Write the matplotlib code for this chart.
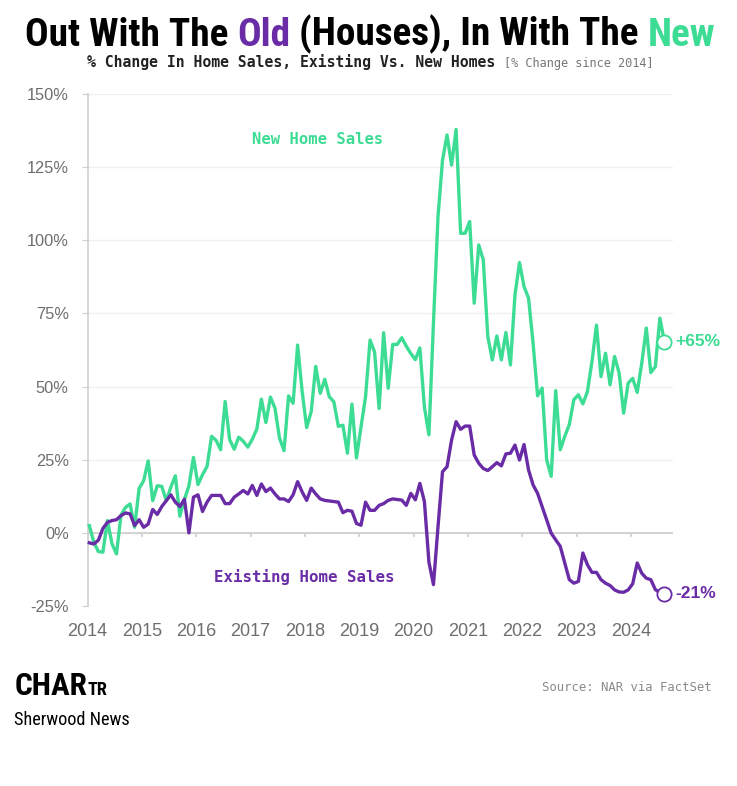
import matplotlib
matplotlib.use("Agg")
import matplotlib.pyplot as plt
import numpy as np

# % change in home sales since Jan 2014, monthly Jan 2014 .. Aug 2024
new_home = [
    2.5, -3.2, -6.4, -6.6, 4.2, -3.7, -7.2, 6.1, 8.7, 9.9, 1.9, 15.2,
    17.8, 24.6, 11.0, 16.1, 15.9, 11.0, 15.6, 19.5, 5.7, 11.4, 16.1, 25.8,
    16.5, 19.9, 22.7, 33.0, 31.6, 28.4, 44.9, 31.8, 28.6, 32.7, 31.3, 29.3,
    32.0, 35.5, 45.7, 37.7, 46.4, 42.6, 32.4, 28.1, 46.8, 44.3, 64.2, 48.3,
    36.0, 41.4, 56.9, 47.7, 52.5, 46.5, 44.8, 36.4, 36.8, 27.2, 44.0, 25.6,
    36.2, 46.5, 65.9, 61.8, 42.5, 68.4, 49.4, 64.4, 64.4, 66.7, 63.8, 61.3,
    59.2, 63.2, 43.0, 33.5, 71.7, 108.0, 127.4, 136.0, 125.7, 137.9, 102.4, 102.4,
    106.4, 78.5, 98.4, 93.3, 67.1, 59.1, 67.3, 59.1, 68.5, 57.4, 81.3, 92.4,
    84.2, 80.2, 64.8, 46.8, 49.5, 25.0, 19.3, 48.6, 28.4, 33.0, 37.0, 45.5,
    47.2, 44.1, 48.3, 58.5, 71.0, 53.4, 61.4, 50.6, 60.3, 54.6, 40.9, 51.2,
    52.8, 48.0, 58.0, 70.0, 54.8, 56.8, 73.4, 65.4,
]
existing_home = [
    -3.4, -3.8, -2.5, 1.5, 3.6, 4.2, 4.5, 5.9, 6.8, 6.5, 2.5, 4.5,
    1.9, 3.0, 8.0, 6.3, 9.0, 11.0, 13.0, 10.5, 9.0, 11.5, 0.0, 12.2,
    13.0, 7.3, 10.5, 12.8, 12.8, 12.8, 10.0, 10.0, 12.2, 13.3, 14.5, 13.3,
    16.2, 12.8, 16.7, 14.1, 15.3, 13.3, 11.6, 11.6, 10.7, 13.0, 17.5, 14.0,
    11.1, 15.3, 13.3, 11.6, 11.1, 10.9, 10.7, 10.5, 6.9, 7.7, 7.4, 3.2,
    2.6, 10.5, 7.7, 7.7, 9.4, 10.0, 11.1, 11.6, 11.4, 11.2, 9.4, 13.5,
    11.3, 16.9, 10.7, -10.0, -17.7, 2.0, 20.9, 22.6, 31.7, 38.0, 35.4, 36.5,
    36.5, 26.6, 23.8, 22.0, 21.3, 22.6, 24.0, 22.9, 27.0, 27.2, 30.0, 24.9,
    30.2, 21.5, 16.4, 13.5, 9.0, 4.4, -0.1, -2.4, -4.6, -10.3, -16.0, -17.2,
    -16.6, -6.9, -10.9, -13.5, -13.5, -16.0, -17.2, -18.0, -19.5, -20.2, -20.3, -19.5,
    -17.4, -10.3, -13.8, -15.5, -16.0, -19.4, -20.4, -20.8,
]
year_ticks = list(range(2014, 2025))
pct_ticks = [-25, 0, 25, 50, 75, 100, 125, 150]

GREEN = "#3ddc94"
PURPLE = "#6a2ca6"

months = np.arange(len(new_home))
x = 2014 + (months + 0.4) / 12

W, H = 737, 786
fig = plt.figure(figsize=(W / 100, H / 100), dpi=100)
fig.patch.set_facecolor("white")
renderer = fig.canvas.get_renderer()

ax = fig.add_axes([87.5 / W, (H - 606) / H, (673 - 87.5) / W, (606 - 94) / H])
ax.set_xlim(2014, 2024.775)
ax.set_ylim(-25, 150)

ax.set_yticks(pct_ticks)
ax.set_yticklabels([f"{p}%" for p in pct_ticks])
ax.set_xticks(year_ticks)
ax.set_xticklabels([str(y) for y in year_ticks])
ax.grid(axis="y", color="#f0f0f0", lw=1)
ax.set_axisbelow(True)
ax.axhline(0, color="#cfcfcf", lw=1.3, zorder=1)
ax.vlines(year_ticks, -1.5, 0, color="#cfcfcf", lw=1.2, zorder=1)

for s in ["top", "right", "bottom"]:
    ax.spines[s].set_visible(False)
ax.spines["left"].set_color("#cfcfcf")
ax.spines["left"].set_linewidth(1.2)

sans = ["Liberation Sans", "DejaVu Sans"]
ax.tick_params(axis="y", length=4, color="#cfcfcf", labelcolor="#6e6e6e", pad=9.5)
ax.tick_params(axis="x", length=0, labelcolor="#6e6e6e", pad=12)
for lab in ax.get_yticklabels():
    lab.set_fontfamily(sans)
    lab.set_fontsize(11.8)
for lab in ax.get_xticklabels():
    lab.set_fontfamily(sans)
    lab.set_fontsize(13)

ax.plot(x, new_home, color=GREEN, lw=2.4, zorder=3, clip_on=False)
ax.plot(x, existing_home, color=PURPLE, lw=2.4, zorder=3, clip_on=False)

for series, col in [(new_home, GREEN), (existing_home, PURPLE)]:
    ax.scatter([x[-1]], [series[-1]], s=105, facecolor="white", edgecolor=col,
               lw=1.3, zorder=5, clip_on=False)
    v = round(series[-1])
    ax.annotate(f"{'+' if v > 0 else '-'}{abs(v)}%", xy=(x[-1], series[-1]),
                xytext=(8, 0), textcoords="offset points", va="center", ha="left",
                color=col, fontsize=12.5, fontweight="bold", family=sans,
                annotation_clip=False)

mono = ["DejaVu Sans Mono"]
ax.text(2018.24, 134.3, "New Home Sales", color=GREEN, fontsize=11.2, fontweight="bold",
        family=mono, ha="center", va="center")
ax.text(2017.98, -15, "Existing Home Sales", color=PURPLE, fontsize=11.3, fontweight="bold",
        family=mono, ha="center", va="center")

cond = ["Liberation Sans Narrow", "Roboto Condensed", "Open Sans Condensed",
        "DejaVu Sans Condensed", "Roboto", "DejaVu Sans"]


def wpx(t):
    return t.get_window_extent(renderer).width


# title with coloured words; font size fitted to the reference width
title_kw = dict(fontweight="heavy", family=cond, va="baseline")
full = "Out With The Old (Houses), In With The New"
probe = fig.text(0, 0, full, fontsize=30, **title_kw)
tsize = 30 * 690 / wpx(probe)
probe.set_fontsize(tsize)


def width_px(s):
    probe.set_text(s)
    return wpx(probe)


wfull = width_px(full)
left = 370 - wfull / 2
base = 1 - 45.5 / H
pieces = [
    ("Out With The", 0, "black"),
    ("Old", width_px("Out With The Old") - width_px("Old"), PURPLE),
    ("(Houses), In With The", width_px("Out With The Old (") - width_px("("), "black"),
    ("New", wfull - width_px("New"), GREEN),
]
probe.remove()
for s, off, col in pieces:
    fig.text((left + off) / W, base, s, color=col, fontsize=tsize, **title_kw)

# subtitle: bold part + grey bracket
sb = 1 - 67.5 / H
t1 = fig.text(0, sb, "% Change In Home Sales, Existing Vs. New Homes", color="#222222",
              fontsize=10.6, fontweight="bold", family=mono, va="baseline")
t2 = fig.text(0, sb, "[% Change since 2014]", color="#777777",
              fontsize=8.6, family=mono, va="baseline")
w1, w2 = wpx(t1), wpx(t2)
gap = 9
sx = 370 - (w1 + gap + w2) / 2
t1.set_x(sx / W)
t2.set_x((sx + w1 + gap) / W)

# footer
logo_kw = dict(fontweight="heavy", family=cond, va="baseline", color="black")
c1 = fig.text(15 / W, 1 - 695 / H, "CHAR", fontsize=24, **logo_kw)
c1.set_fontsize(24 * 73 / wpx(c1))
c2 = fig.text((15 + wpx(c1)) / W, 1 - 695 / H, "TR", fontsize=13, **logo_kw)
c2.set_fontsize(13 * 20 / wpx(c2))
sn = fig.text(14 / W, 1 - 725 / H, "Sherwood News", fontsize=11.5, color="black",
              family=cond, va="baseline")
sn.set_fontsize(11.5 * 116 / wpx(sn))
fig.text(712 / W, 1 - 691 / H, "Source: NAR via FactSet", fontsize=8.8, color="#8a8a8a",
         family=mono, ha="right", va="baseline")

fig.savefig("out.png", dpi=100, facecolor="white")
